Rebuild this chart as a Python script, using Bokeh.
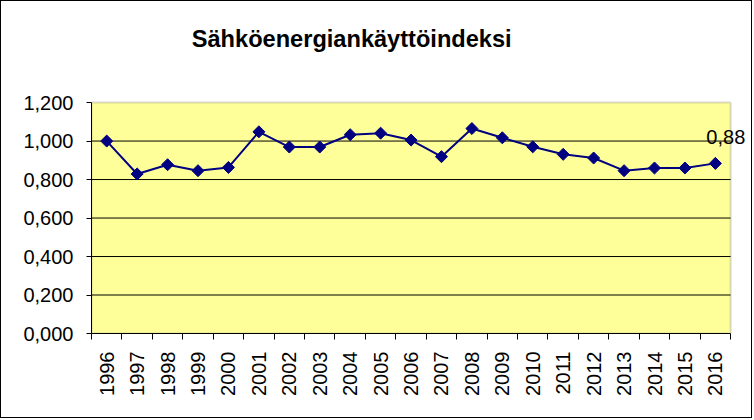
import math
from bokeh.plotting import figure
from bokeh.models import FixedTicker, CustomJSTickFormatter, Label, Range1d, BoxAnnotation
from bokeh.embed import file_html
from bokeh.resources import INLINE

years = ["1996", "1997", "1998", "1999", "2000", "2001", "2002", "2003", "2004", "2005",
         "2006", "2007", "2008", "2009", "2010", "2011", "2012", "2013", "2014", "2015", "2016"]
index_values = [1.000, 0.829, 0.877, 0.846, 0.863, 1.048, 0.969, 0.969, 1.033, 1.041,
                1.005, 0.919, 1.065, 1.017, 0.970, 0.931, 0.912, 0.846, 0.860, 0.860, 0.884]
y_ticks = [0.0, 0.2, 0.4, 0.6, 0.8, 1.0, 1.2]
title_text = "Sähköenergiankäyttöindeksi"
last_label = "0,88"

xs = list(range(1, len(years) + 1))
x_lo, x_hi = 0.5, len(years) + 0.5
y_lo, y_hi = y_ticks[0], y_ticks[-1]

# frame extended past the plot area (right and top) so texts there are not clipped
p = figure(width=752, height=418, output_backend="svg", toolbar_location=None,
           x_range=Range1d(x_lo, x_hi + 0.72), y_range=Range1d(y_lo, y_hi + 0.52),
           min_border_left=90, min_border_right=1, min_border_top=1, min_border_bottom=86,
           background_fill_color="white", border_fill_color="white")
p.styles = {"border": "1px solid black"}
p.outline_line_color = None

# plot area (yellow with grey border)
p.add_layout(BoxAnnotation(left=x_lo, right=x_hi, bottom=y_lo, top=y_hi,
                           fill_color="#FFFF99", fill_alpha=1.0,
                           line_color="#808080", line_width=2, level="underlay"))

# x axis
p.xaxis.ticker = FixedTicker(ticks=xs, minor_ticks=[x - 0.5 for x in xs] + [x_hi])
p.xaxis.formatter = CustomJSTickFormatter(args=dict(labels=years),
                                          code="return labels[Math.round(tick) - 1] || '';")
p.xaxis.bounds = (x_lo, x_hi)
p.xaxis.major_label_orientation = math.pi / 2
p.xaxis.major_tick_line_color = None
p.xaxis.major_tick_out = 0
p.xaxis.major_tick_in = 0
p.xaxis.minor_tick_line_color = "black"
p.xaxis.minor_tick_out = 6
p.xaxis.minor_tick_in = 0
p.xaxis.major_label_standoff = 12
p.xaxis.axis_line_color = "black"

# y axis
p.yaxis.ticker = FixedTicker(ticks=y_ticks)
p.yaxis.formatter = CustomJSTickFormatter(code="return tick.toFixed(3).replace('.', ',');")
p.yaxis.bounds = (y_lo, y_hi)
p.yaxis.major_tick_out = 5
p.yaxis.major_tick_in = 0
p.yaxis.minor_tick_line_color = None
p.yaxis.major_label_standoff = 13
p.yaxis.axis_line_color = "black"

for ax in (p.xaxis, p.yaxis):
    ax.major_label_text_font = "Liberation Sans"
    ax.major_label_text_font_size = "20px"
    ax.major_label_text_color = "black"

p.xgrid.grid_line_color = None
p.ygrid.grid_line_color = None

# horizontal grid lines limited to the plot area
grid_vals = y_ticks[1:-1]
p.segment(x0=[x_lo] * len(grid_vals), x1=[x_hi] * len(grid_vals), y0=grid_vals, y1=grid_vals,
          line_color="black", line_width=1)

p.line(xs, index_values, line_color="#000080", line_width=2)
p.scatter(xs, index_values, marker="square", angle=math.pi / 4, size=8.5,
          fill_color="#000080", line_color="#000080")

p.add_layout(Label(x=xs[-1], y=index_values[-1], text=last_label, x_offset=-9, y_offset=26,
                   text_baseline="alphabetic", text_font="Liberation Sans",
                   text_font_size="20px", text_color="black"))

# chart title
p.add_layout(Label(x=9.05, y=1.528, text=title_text, text_align="center",
                   text_baseline="alphabetic", text_font="Liberation Sans",
                   text_font_size="23.6px", text_font_style="bold", text_color="black"))

open("out.html", "w").write(file_html(p, INLINE))
